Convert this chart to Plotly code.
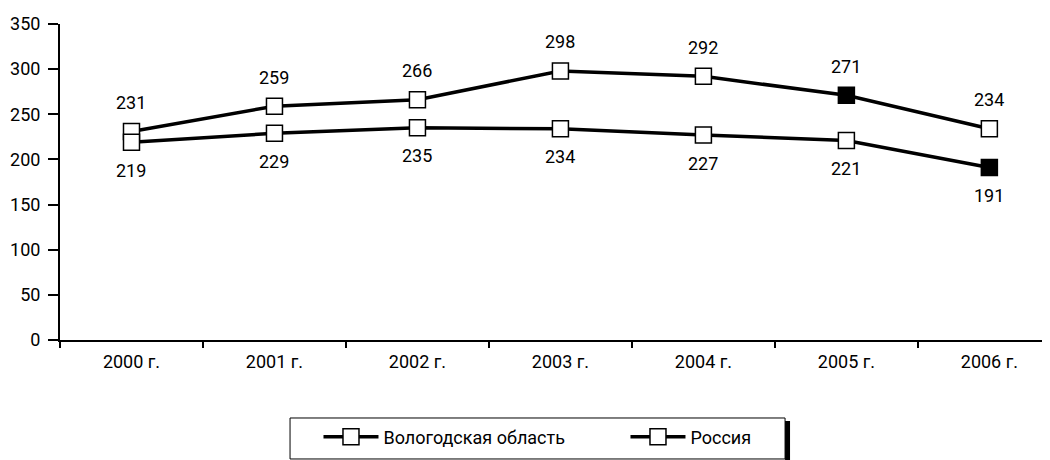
import plotly.graph_objects as go

years = ["2000 г.", "2001 г.", "2002 г.", "2003 г.", "2004 г.", "2005 г.", "2006 г."]
vologda = [231, 259, 266, 298, 292, 271, 234]
russia = [219, 229, 235, 234, 227, 221, 191]
vologda_fill = ["white", "white", "white", "white", "white", "black", "white"]
russia_fill = ["white", "white", "white", "white", "white", "white", "black"]

FONT = "Roboto, Liberation Sans Narrow, sans-serif"
SIZE = 18

fig = go.Figure()
fig.add_trace(go.Scatter(
    x=years, y=vologda, name="Вологодская область",
    mode="lines+markers",
    line=dict(color="black", width=3.5),
    marker=dict(symbol="square", size=16, color=vologda_fill, line=dict(color="black", width=1.5)),
))
fig.add_trace(go.Scatter(
    x=years, y=russia, name="Россия",
    mode="lines+markers",
    line=dict(color="black", width=3.5),
    marker=dict(symbol="square", size=16, color=russia_fill, line=dict(color="black", width=1.5)),
))

annotations = []
for xv, yv in zip(years, vologda):
    annotations.append(dict(x=xv, y=yv, text=str(yv), showarrow=False, yshift=29,
                            font=dict(family=FONT, size=SIZE, color="black")))
for xv, yv in zip(years, russia):
    annotations.append(dict(x=xv, y=yv, text=str(yv), showarrow=False, yshift=-28,
                            font=dict(family=FONT, size=SIZE, color="black")))

fig.update_layout(
    width=1050, height=460,
    margin=dict(l=52, r=0, t=16, b=128),
    paper_bgcolor="white", plot_bgcolor="white",
    font=dict(family=FONT, size=SIZE, color="black"),
    showlegend=True,
    annotations=annotations,
    legend=dict(
        orientation="h", x=0.259, xanchor="left", y=-0.307, yanchor="middle",
        bgcolor="rgba(0,0,0,0)", borderwidth=0,
        font=dict(family=FONT, size=SIZE, color="black"),
        entrywidth=237, entrywidthmode="pixels", itemwidth=55,
    ),
    xaxis=dict(
        type="category", range=[-0.5, 6.48],
        showline=True, linecolor="black", linewidth=2,
        ticks="outside", tickson="boundaries", ticklen=6, tickcolor="black", tickwidth=2,
        showgrid=False, zeroline=False, ticklabelstandoff=4,
        tickfont=dict(family=FONT, size=SIZE, color="black"),
    ),
    yaxis=dict(
        range=[0, 350], dtick=50,
        showline=True, linecolor="black", linewidth=2,
        ticks="outside", ticklen=10, tickcolor="black", tickwidth=2,
        showgrid=False, zeroline=False, ticklabelstandoff=4,
        tickfont=dict(family=FONT, size=SIZE, color="black"),
    ),
    shapes=[
        dict(type="rect", xref="paper", yref="paper", x0=0.7265, x1=0.7315, y0=-0.40, y1=-0.2563,
             fillcolor="black", line=dict(width=0)),
        dict(type="rect", xref="paper", yref="paper", x0=0.2305, x1=0.7265, y0=-0.3765, y1=-0.2468,
             fillcolor="rgba(0,0,0,0)", line=dict(color="black", width=1)),
    ],
)

fig.write_html("out.html")
